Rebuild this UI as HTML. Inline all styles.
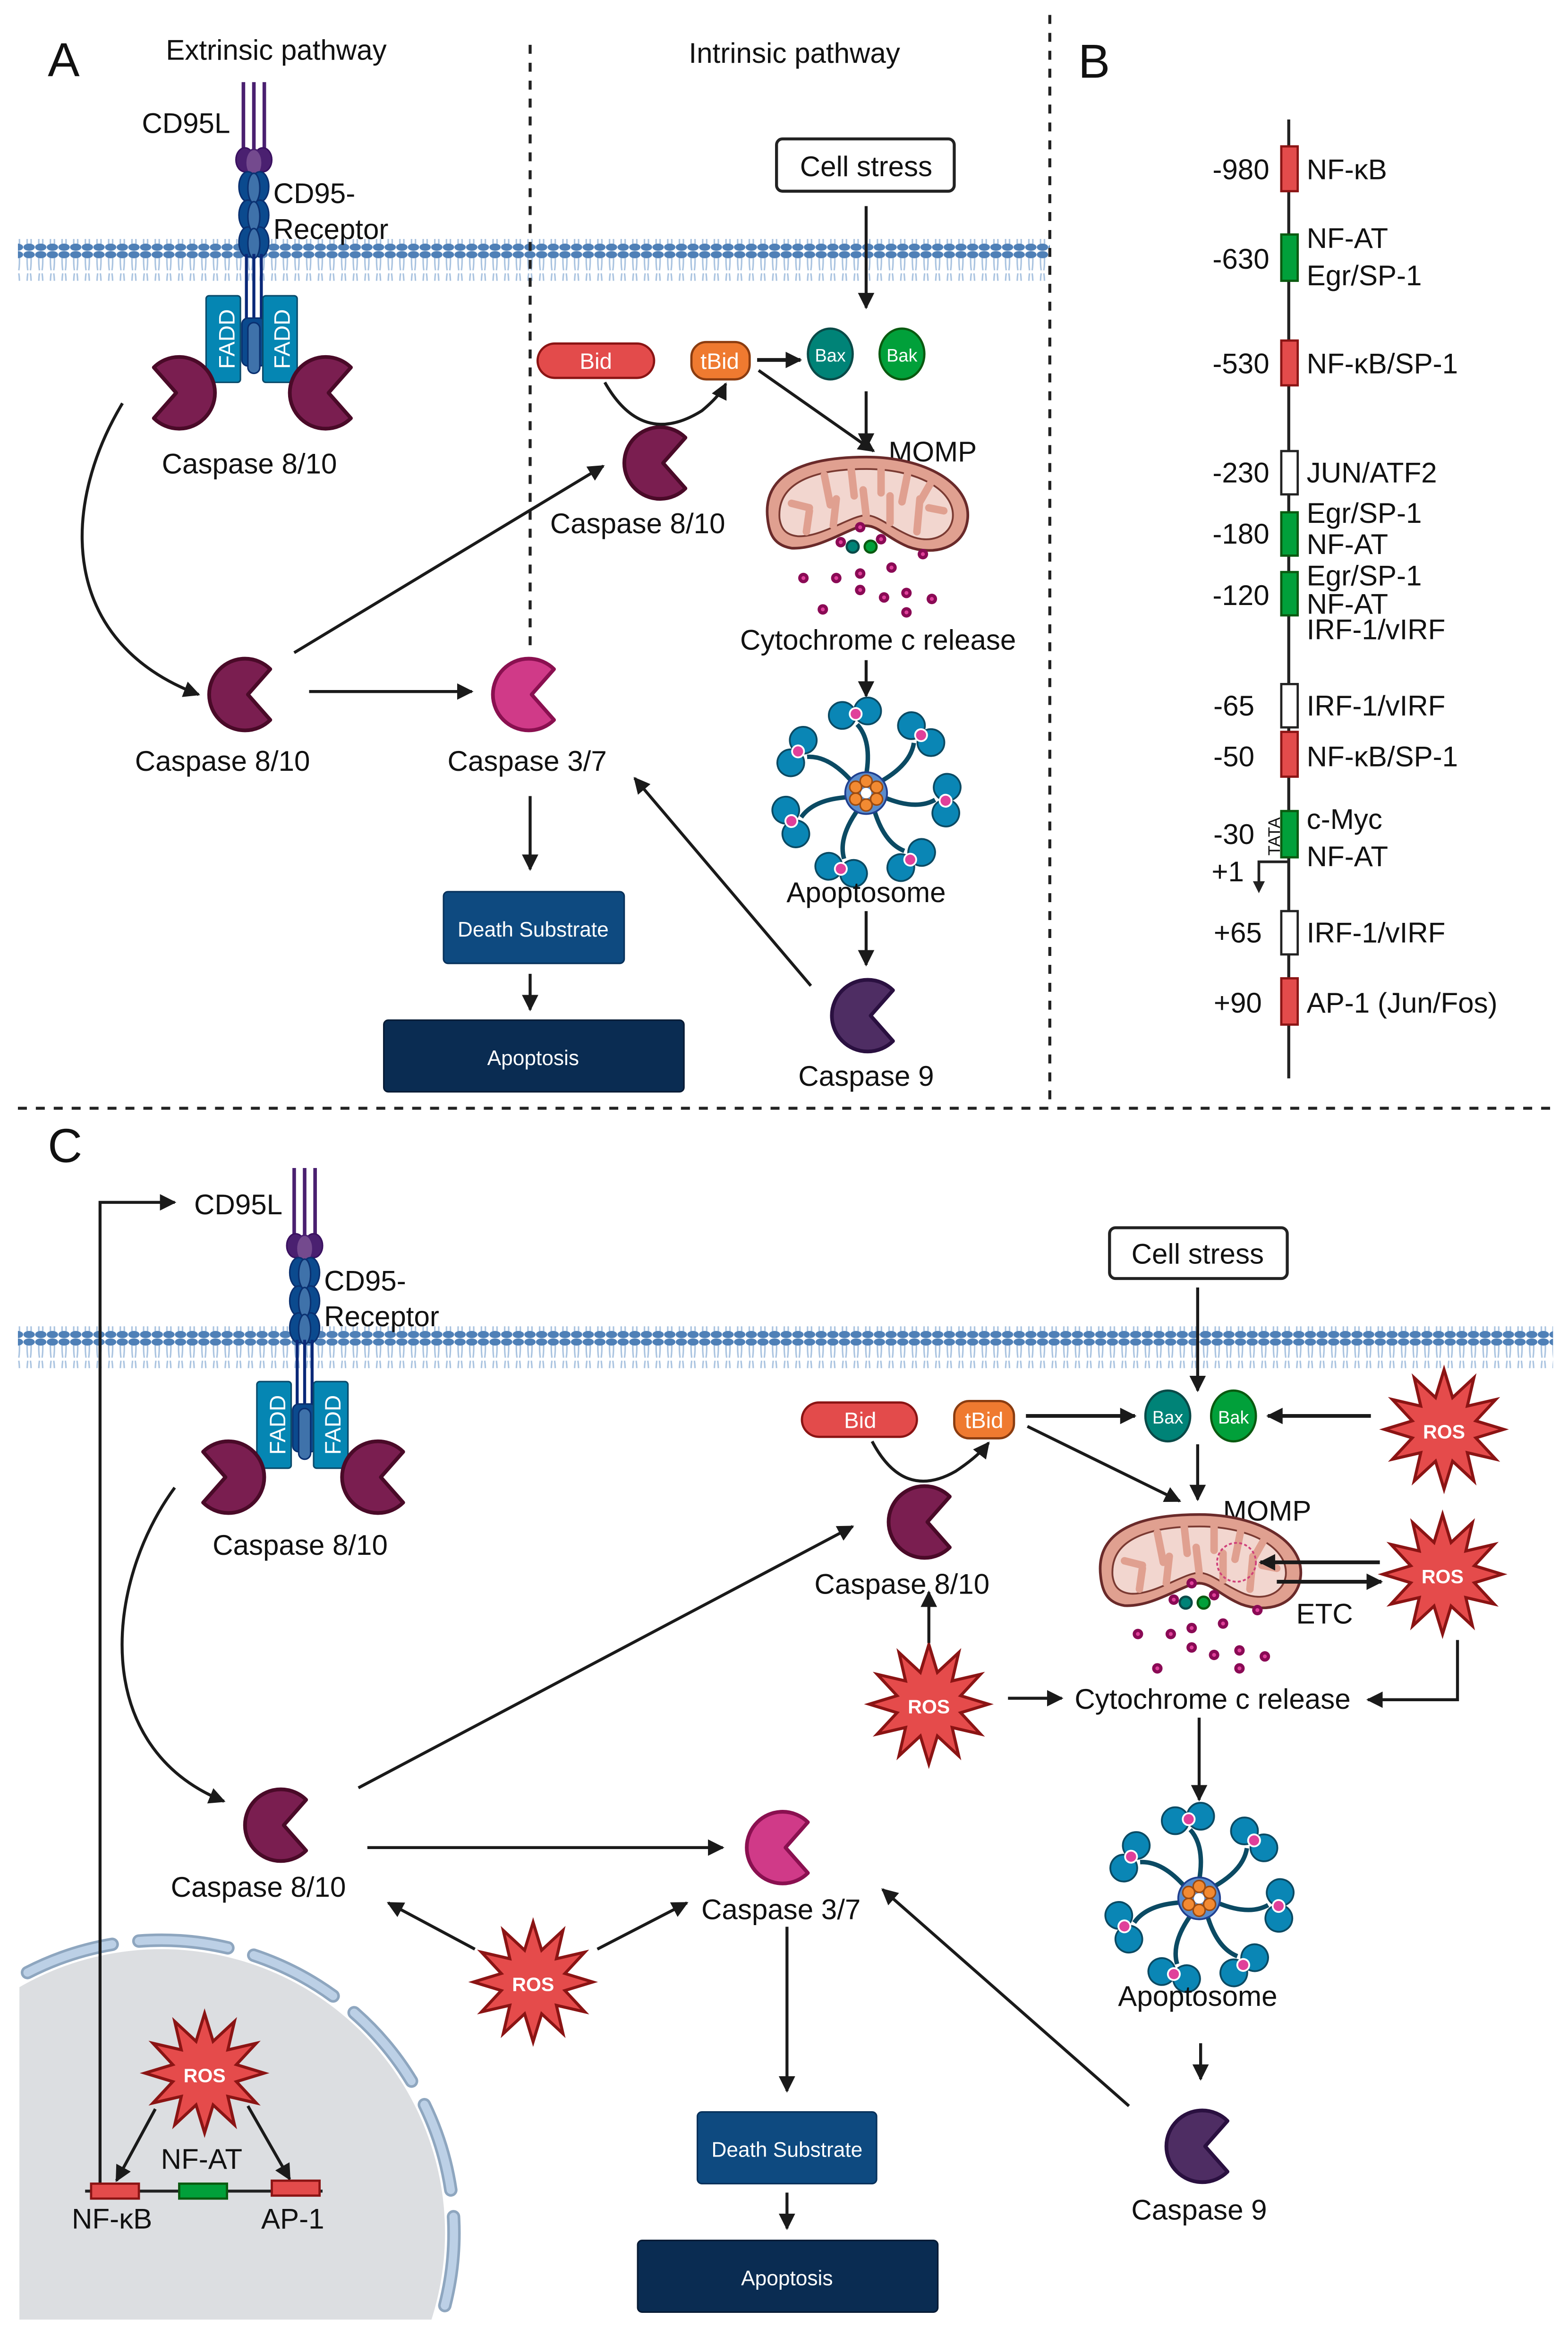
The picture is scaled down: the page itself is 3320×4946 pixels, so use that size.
<!DOCTYPE html>
<html><head><meta charset="utf-8"><style>
html,body{margin:0;padding:0;background:#fff;width:3320px;height:4946px;overflow:hidden}
svg{display:block}
text{font-family:"Liberation Sans",sans-serif;fill:#111}
</style></head><body>
<svg width="3320" height="4946" viewBox="0 0 1050 1564" preserveAspectRatio="none" xmlns="http://www.w3.org/2000/svg">
<defs>
<marker id="ah" viewBox="0 0 10 10" refX="9" refY="5" markerWidth="11" markerHeight="11" markerUnits="userSpaceOnUse" orient="auto"><path d="M0,0 L10,5 L0,10 Z" fill="#1a1a1a"/></marker>
<pattern id="lip" width="7.8" height="28" patternUnits="userSpaceOnUse">
<path d="M2.6,3 Q2.4,9 3,13 M5.2,3 Q5.4,9 4.8,13 M2.6,25 Q2.4,19 3,15 M5.2,25 Q5.4,19 4.8,15" stroke="#a9c3e0" stroke-width="1" fill="none"/>
<ellipse cx="3.9" cy="2.5" rx="3.8" ry="2.4" fill="#4f80b7"/>
<ellipse cx="3.9" cy="25.5" rx="3.8" ry="2.4" fill="#4f80b7"/>
</pattern>
<path id="casp" d="M17,-17 A24,24 0 1 0 17,17 L2,0 Z" stroke-width="2.5" stroke-linejoin="round"/>
<polygon id="ros" points="0,-40 5.7,-21.3 20,-34.6 15.6,-15.6 34.6,-20 21.3,-5.7 40,0 21.3,5.7 34.6,20 15.6,15.6 20,34.6 5.7,21.3 0,40 -5.7,21.3 -20,34.6 -15.6,15.6 -34.6,20 -21.3,5.7 -40,0 -21.3,-5.7 -34.6,-20 -15.6,-15.6 -20,-34.6 -5.7,-21.3" fill="#e54b4b" stroke="#8b1414" stroke-width="2" stroke-linejoin="miter"/>
<g id="arm">
<path d="M0,-12 Q4,-35 -6,-46" stroke="#0b4a63" stroke-width="3" fill="none"/>
<circle cx="-16" cy="-52" r="9" fill="#0a86b5" stroke="#0b4a63" stroke-width="1.2"/>
<circle cx="1" cy="-55" r="9" fill="#0a86b5" stroke="#0b4a63" stroke-width="1.2"/>
<circle cx="-7" cy="-53" r="4" fill="#e0409a" stroke="#fff" stroke-width="1.2"/>
</g>
<g id="apop">
<use href="#arm" transform="rotate(0)"/><use href="#arm" transform="rotate(51)"/><use href="#arm" transform="rotate(103)"/><use href="#arm" transform="rotate(154)"/><use href="#arm" transform="rotate(206)"/><use href="#arm" transform="rotate(257)"/><use href="#arm" transform="rotate(309)"/>
<circle r="14" fill="#5a8ccc" stroke="#1f3f8f" stroke-width="1.2"/>
<g fill="#f28a32" stroke="#9a4a10" stroke-width="1">
<circle cx="0" cy="-8" r="4"/><circle cx="7" cy="-4" r="4"/><circle cx="7" cy="4" r="4"/><circle cx="0" cy="8" r="4"/><circle cx="-7" cy="4" r="4"/><circle cx="-7" cy="-4" r="4"/></g>
<circle r="3.5" fill="#fff"/>
</g>
<g id="mito">
<path d="M-66,5 C-70,-30 -30,-36 0,-36 C40,-36 70,-18 68,5 C66,26 44,30 28,24 C14,18 8,10 0,10 C-10,10 -30,26 -50,25 C-62,23 -65,15 -66,5 Z" fill="#e0a090" stroke="#6a2a2a" stroke-width="1.8"/>
<path d="M-58,5 C-60,-22 -28,-28 0,-28 C34,-28 60,-14 58,5 C56,18 42,22 30,17 C16,11 8,3 0,3 C-10,3 -30,18 -46,17 C-54,16 -57,12 -58,5 Z" fill="#f2d6cf" stroke="#7a3a32" stroke-width="1.2"/>
<g stroke="#e0a090" stroke-width="5" stroke-linecap="round">
<path d="M-50,-5 L-38,-2 M-40,14 L-38,0 M-28,-24 L-24,-4 M-22,10 L-20,-8 M-10,-28 L-8,-10 M0,3 L-2,-14 M10,-28 L10,-12 M16,8 L16,-10 M28,-26 L24,-6 M34,14 L36,-8 M44,-20 L36,-6 M52,0 L42,-2"/>
</g>
</g>
<g id="cyt"><circle r="3.5" fill="#8a0a55"/><circle r="1.3" fill="#e0409a"/></g>
<g id="receptor">
<line x1="-7" y1="-50" x2="-7" y2="0" stroke="#4a2070" stroke-width="2.4"/>
<line x1="0" y1="-50" x2="0" y2="0" stroke="#4a2070" stroke-width="2.4"/>
<line x1="7" y1="-50" x2="7" y2="0" stroke="#4a2070" stroke-width="2.4"/>
<ellipse cx="-6" cy="2" rx="6" ry="8" fill="#4a2070" stroke="#3a1060"/>
<ellipse cx="6" cy="2" rx="6" ry="8" fill="#4a2070" stroke="#3a1060"/>
<ellipse cx="0" cy="4" rx="5.5" ry="9" fill="#744a8e" stroke="#4a2070"/>
<g fill="#0b4a8e" stroke="#0a3070">
<ellipse cx="-4" cy="20" rx="6" ry="10"/><ellipse cx="4" cy="20" rx="6" ry="10"/>
<ellipse cx="-4" cy="39" rx="6" ry="10"/><ellipse cx="4" cy="39" rx="6" ry="10"/>
<ellipse cx="-4" cy="57" rx="6" ry="10"/><ellipse cx="4" cy="57" rx="6" ry="10"/></g>
<g fill="#3f72aa" stroke="#0a3070"><ellipse cx="0" cy="21" rx="4" ry="10"/><ellipse cx="0" cy="40" rx="4" ry="10"/><ellipse cx="0" cy="58" rx="4" ry="10"/></g>
<g stroke="#0a2878" stroke-width="2"><line x1="-5" y1="65" x2="-5" y2="112"/><line x1="0" y1="65" x2="0" y2="112"/><line x1="5" y1="65" x2="5" y2="112"/></g>
<rect x="-8" y="108" width="16" height="32" rx="4" fill="#0b4a8e" stroke="#0a3070"/>
<rect x="-4" y="111" width="8" height="34" rx="4" fill="#3f72aa" stroke="#0a3070"/>
</g>
</defs>

<!-- ================= PANEL A ================= -->
<rect x="12" y="160" width="691" height="28" fill="url(#lip)"/>
<text x="32" y="51" font-size="32">A</text>
<text x="185" y="40" font-size="19" text-anchor="middle">Extrinsic pathway</text>
<text x="532" y="42" font-size="19" text-anchor="middle">Intrinsic pathway</text>
<text x="722" y="52" font-size="32">B</text>
<line x1="355" y1="30" x2="355" y2="436" stroke="#222" stroke-width="2" stroke-dasharray="6,6"/>
<line x1="703" y1="10" x2="703" y2="740" stroke="#222" stroke-width="2" stroke-dasharray="6,6"/>
<line x1="12" y1="742" x2="1040" y2="742" stroke="#222" stroke-width="2" stroke-dasharray="6,6"/>

<use href="#receptor" transform="translate(170,105)"/>
<text x="95" y="89" font-size="19">CD95L</text>
<text x="183" y="136" font-size="19">CD95-</text>
<text x="183" y="160" font-size="19">Receptor</text>
<rect x="138" y="198" width="23" height="58" rx="2" fill="#0586b3" stroke="#0a4a6a"/>
<rect x="176" y="198" width="23" height="58" rx="2" fill="#0586b3" stroke="#0a4a6a"/>
<text transform="translate(157,227) rotate(-90)" font-size="15" text-anchor="middle" style="fill:#fff">FADD</text>
<text transform="translate(194,227) rotate(-90)" font-size="15" text-anchor="middle" style="fill:#fff">FADD</text>
<use href="#casp" transform="translate(120,263) scale(-1,1)" fill="#7a1e50" stroke="#4a0a28"/>
<use href="#casp" transform="translate(218,263)" fill="#7a1e50" stroke="#4a0a28"/>
<text x="167" y="317" font-size="19" text-anchor="middle">Caspase 8/10</text>

<path d="M82,270 C40,340 40,430 133,465" stroke="#1a1a1a" stroke-width="2" fill="none" marker-end="url(#ah)"/>
<use href="#casp" transform="translate(164,465)" fill="#7a1e50" stroke="#4a0a28"/>
<text x="149" y="516" font-size="19" text-anchor="middle">Caspase 8/10</text>
<line x1="207" y1="463" x2="316" y2="463" stroke="#1a1a1a" stroke-width="2" marker-end="url(#ah)"/>
<use href="#casp" transform="translate(354,465)" fill="#d03a88" stroke="#8a1050"/>
<text x="353" y="516" font-size="19" text-anchor="middle">Caspase 3/7</text>
<line x1="355" y1="533" x2="355" y2="582" stroke="#1a1a1a" stroke-width="2" marker-end="url(#ah)"/>
<rect x="297" y="597" width="121" height="48" rx="3" fill="#0e4a80" stroke="#06305a"/>
<text x="357" y="627" font-size="14" text-anchor="middle" style="fill:#fff">Death Substrate</text>
<line x1="355" y1="652" x2="355" y2="676" stroke="#1a1a1a" stroke-width="2" marker-end="url(#ah)"/>
<rect x="257" y="683" width="201" height="48" rx="3" fill="#0a2c52" stroke="#061a34"/>
<text x="357" y="713" font-size="14" text-anchor="middle" style="fill:#fff">Apoptosis</text>

<line x1="197" y1="437" x2="404" y2="312" stroke="#1a1a1a" stroke-width="2" marker-end="url(#ah)"/>
<use href="#casp" transform="translate(442,310)" fill="#7a1e50" stroke="#4a0a28"/>
<text x="427" y="357" font-size="19" text-anchor="middle">Caspase 8/10</text>

<rect x="360" y="230" width="78" height="23" rx="11.5" fill="#e34b4b" stroke="#8b1414" stroke-width="1.5"/>
<text x="399" y="247" font-size="15" text-anchor="middle" style="fill:#fff">Bid</text>
<rect x="463" y="229" width="39" height="25" rx="10" fill="#ef7a30" stroke="#8a3c10" stroke-width="1.5"/>
<text x="482" y="247" font-size="15" text-anchor="middle" style="fill:#fff">tBid</text>
<path d="M405,256 Q430,300 470,275 Q482,265 486,257" stroke="#1a1a1a" stroke-width="2" fill="none" marker-end="url(#ah)"/>
<line x1="507" y1="241" x2="536" y2="241" stroke="#1a1a1a" stroke-width="2.5" marker-end="url(#ah)"/>
<line x1="508" y1="248" x2="585" y2="302" stroke="#1a1a1a" stroke-width="2" marker-end="url(#ah)"/>
<ellipse cx="556" cy="237" rx="15" ry="17" fill="#008377" stroke="#0a4a48" stroke-width="1.5"/>
<text x="556" y="242" font-size="12" text-anchor="middle" style="fill:#fff">Bax</text>
<ellipse cx="604" cy="237" rx="15" ry="17" fill="#01a03a" stroke="#0a5a10" stroke-width="1.5"/>
<text x="604" y="242" font-size="12" text-anchor="middle" style="fill:#fff">Bak</text>
<rect x="520" y="93" width="119" height="35" rx="4" fill="#fff" stroke="#222" stroke-width="2"/>
<text x="580" y="118" font-size="19" text-anchor="middle">Cell stress</text>
<line x1="580" y1="138" x2="580" y2="206" stroke="#1a1a1a" stroke-width="2" marker-end="url(#ah)"/>
<line x1="580" y1="262" x2="580" y2="300" stroke="#1a1a1a" stroke-width="2" marker-end="url(#ah)"/>
<text x="595" y="309" font-size="19">MOMP</text>
<use href="#mito" transform="translate(580,342)"/>
<circle cx="571" cy="366" r="4" fill="#008377" stroke="#0a4a48" stroke-width="1.5"/>
<circle cx="583" cy="366" r="4" fill="#01a03a" stroke="#0a5a10" stroke-width="1.5"/>
<use href="#cyt" x="563" y="363"/><use href="#cyt" x="576" y="353"/><use href="#cyt" x="590" y="361"/><use href="#cyt" x="618" y="371"/>
<use href="#cyt" x="576" y="384"/><use href="#cyt" x="597" y="380"/><use href="#cyt" x="538" y="387"/><use href="#cyt" x="560" y="387"/>
<use href="#cyt" x="576" y="395"/><use href="#cyt" x="592" y="400"/><use href="#cyt" x="607" y="397"/><use href="#cyt" x="624" y="401"/><use href="#cyt" x="551" y="408"/><use href="#cyt" x="607" y="410"/>
<text x="588" y="435" font-size="19" text-anchor="middle">Cytochrome c release</text>
<line x1="580" y1="442" x2="580" y2="466" stroke="#1a1a1a" stroke-width="2" marker-end="url(#ah)"/>
<use href="#apop" transform="translate(580,531)"/>
<text x="580" y="604" font-size="19" text-anchor="middle">Apoptosome</text>
<line x1="580" y1="610" x2="580" y2="646" stroke="#1a1a1a" stroke-width="2" marker-end="url(#ah)"/>
<use href="#casp" transform="translate(581,680)" fill="#4e2d63" stroke="#2a1040"/>
<text x="580" y="727" font-size="19" text-anchor="middle">Caspase 9</text>
<line x1="543" y1="660" x2="425" y2="521" stroke="#1a1a1a" stroke-width="2" marker-end="url(#ah)"/>

<!-- ================= PANEL B ================= -->
<line x1="863" y1="80" x2="863" y2="722" stroke="#222" stroke-width="2"/>
<g font-size="19">
<rect x="858" y="98" width="11" height="30" fill="#e34b4b" stroke="#8b1414" stroke-width="1.5"/>
<text x="850" y="120" text-anchor="end">-980</text><text x="875" y="120">NF-κB</text>
<rect x="858" y="157" width="11" height="31" fill="#01a03a" stroke="#0a5a10" stroke-width="1.5"/>
<text x="850" y="180" text-anchor="end">-630</text><text x="875" y="166">NF-AT</text><text x="875" y="191">Egr/SP-1</text>
<rect x="858" y="228" width="11" height="30" fill="#e34b4b" stroke="#8b1414" stroke-width="1.5"/>
<text x="850" y="250" text-anchor="end">-530</text><text x="875" y="250">NF-κB/SP-1</text>
<rect x="858" y="302" width="11" height="29" fill="#fff" stroke="#222" stroke-width="1.5"/>
<text x="850" y="323" text-anchor="end">-230</text><text x="875" y="323">JUN/ATF2</text>
<rect x="858" y="343" width="11" height="29" fill="#01a03a" stroke="#0a5a10" stroke-width="1.5"/>
<text x="850" y="364" text-anchor="end">-180</text><text x="875" y="350">Egr/SP-1</text><text x="875" y="371">NF-AT</text>
<rect x="858" y="383" width="11" height="29" fill="#01a03a" stroke="#0a5a10" stroke-width="1.5"/>
<text x="850" y="405" text-anchor="end">-120</text><text x="875" y="392">Egr/SP-1</text><text x="875" y="411">NF-AT</text><text x="875" y="428">IRF-1/vIRF</text>
<rect x="858" y="458" width="11" height="29" fill="#fff" stroke="#222" stroke-width="1.5"/>
<text x="840" y="479" text-anchor="end">-65</text><text x="875" y="479">IRF-1/vIRF</text>
<rect x="858" y="490" width="11" height="30" fill="#e34b4b" stroke="#8b1414" stroke-width="1.5"/>
<text x="840" y="513" text-anchor="end">-50</text><text x="875" y="513">NF-κB/SP-1</text>
<rect x="858" y="543" width="11" height="31" fill="#01a03a" stroke="#0a5a10" stroke-width="1.5"/>
<text x="840" y="565" text-anchor="end">-30</text><text x="875" y="555">c-Myc</text><text x="875" y="580">NF-AT</text>
<text transform="translate(857,560) rotate(-90)" font-size="11" text-anchor="middle">TATA</text>
<text x="833" y="590" text-anchor="end">+1</text>
<polyline points="863,577 843,577 843,592" fill="none" stroke="#222" stroke-width="1.8"/>
<path d="M839,590 L847,590 L843,598 Z" fill="#222"/>
<rect x="858" y="610" width="11" height="29" fill="#fff" stroke="#222" stroke-width="1.5"/>
<text x="845" y="631" text-anchor="end">+65</text><text x="875" y="631">IRF-1/vIRF</text>
<rect x="858" y="655" width="11" height="31" fill="#e34b4b" stroke="#8b1414" stroke-width="1.5"/>
<text x="845" y="678" text-anchor="end">+90</text><text x="875" y="678">AP-1 (Jun/Fos)</text>
</g>

<!-- ================= PANEL C ================= -->
<text x="32" y="778" font-size="32">C</text>
<clipPath id="nclip"><rect x="13" y="1200" width="400" height="353"/></clipPath>
<g clip-path="url(#nclip)">
<circle cx="108" cy="1495" r="190" fill="#dcdee1"/>
<circle cx="108" cy="1495" r="196" fill="none" stroke="#8ea6bf" stroke-width="9" stroke-dasharray="60,18" stroke-linecap="round" transform="rotate(-140 108 1495)"/>
<circle cx="108" cy="1495" r="196" fill="none" stroke="#bcd0e6" stroke-width="5.5" stroke-dasharray="60,18" stroke-linecap="round" transform="rotate(-140 108 1495)"/>
</g>
<rect x="12" y="888" width="1028" height="28" fill="url(#lip)"/>
<polyline points="67,1465 67,805 117,805" fill="none" stroke="#1a1a1a" stroke-width="2" marker-end="url(#ah)"/>
<text x="130" y="813" font-size="19">CD95L</text>
<use href="#receptor" transform="translate(204,832)"/>
<text x="217" y="864" font-size="19">CD95-</text>
<text x="217" y="888" font-size="19">Receptor</text>
<rect x="172" y="925" width="23" height="58" rx="2" fill="#0586b3" stroke="#0a4a6a"/>
<rect x="210" y="925" width="23" height="58" rx="2" fill="#0586b3" stroke="#0a4a6a"/>
<text transform="translate(191,954) rotate(-90)" font-size="15" text-anchor="middle" style="fill:#fff">FADD</text>
<text transform="translate(228,954) rotate(-90)" font-size="15" text-anchor="middle" style="fill:#fff">FADD</text>
<use href="#casp" transform="translate(153,989) scale(-1,1)" fill="#7a1e50" stroke="#4a0a28"/>
<use href="#casp" transform="translate(253,989)" fill="#7a1e50" stroke="#4a0a28"/>
<text x="201" y="1041" font-size="19" text-anchor="middle">Caspase 8/10</text>
<path d="M117,996 C70,1060 60,1170 150,1206" stroke="#1a1a1a" stroke-width="2" fill="none" marker-end="url(#ah)"/>
<use href="#casp" transform="translate(188,1222)" fill="#7a1e50" stroke="#4a0a28"/>
<text x="173" y="1270" font-size="19" text-anchor="middle">Caspase 8/10</text>
<line x1="240" y1="1197" x2="571" y2="1022" stroke="#1a1a1a" stroke-width="2" marker-end="url(#ah)"/>
<use href="#casp" transform="translate(619,1019)" fill="#7a1e50" stroke="#4a0a28"/>
<text x="604" y="1067" font-size="19" text-anchor="middle">Caspase 8/10</text>
<line x1="246" y1="1237" x2="484" y2="1237" stroke="#1a1a1a" stroke-width="2" marker-end="url(#ah)"/>
<use href="#casp" transform="translate(524,1237)" fill="#d03a88" stroke="#8a1050"/>
<text x="523" y="1285" font-size="19" text-anchor="middle">Caspase 3/7</text>
<use href="#ros" transform="translate(357,1327)"/>
<text x="357" y="1333" font-size="13" font-weight="bold" text-anchor="middle" style="fill:#fff">ROS</text>
<line x1="318" y1="1305" x2="260" y2="1274" stroke="#1a1a1a" stroke-width="2" marker-end="url(#ah)"/>
<line x1="400" y1="1305" x2="460" y2="1274" stroke="#1a1a1a" stroke-width="2" marker-end="url(#ah)"/>
<line x1="527" y1="1290" x2="527" y2="1400" stroke="#1a1a1a" stroke-width="2" marker-end="url(#ah)"/>
<rect x="467" y="1414" width="120" height="48" rx="3" fill="#0e4a80" stroke="#06305a"/>
<text x="527" y="1444" font-size="14" text-anchor="middle" style="fill:#fff">Death Substrate</text>
<line x1="527" y1="1468" x2="527" y2="1492" stroke="#1a1a1a" stroke-width="2" marker-end="url(#ah)"/>
<rect x="427" y="1500" width="201" height="48" rx="3" fill="#0a2c52" stroke="#061a34"/>
<text x="527" y="1530" font-size="14" text-anchor="middle" style="fill:#fff">Apoptosis</text>

<use href="#ros" transform="translate(137,1388)"/>
<text x="137" y="1394" font-size="13" font-weight="bold" text-anchor="middle" style="fill:#fff">ROS</text>
<line x1="104" y1="1412" x2="78" y2="1460" stroke="#1a1a1a" stroke-width="2" marker-end="url(#ah)"/>
<line x1="166" y1="1410" x2="194" y2="1459" stroke="#1a1a1a" stroke-width="2" marker-end="url(#ah)"/>
<line x1="57" y1="1467" x2="216" y2="1467" stroke="#222" stroke-width="2"/>
<rect x="61" y="1462" width="32" height="10" fill="#e34b4b" stroke="#8b1414" stroke-width="1.5"/>
<rect x="120" y="1462" width="32" height="10" fill="#01a03a" stroke="#0a5a10" stroke-width="1.5"/>
<rect x="182" y="1460" width="32" height="10" fill="#e34b4b" stroke="#8b1414" stroke-width="1.5"/>
<text x="75" y="1492" font-size="19" text-anchor="middle">NF-κB</text>
<text x="135" y="1452" font-size="19" text-anchor="middle">NF-AT</text>
<text x="196" y="1492" font-size="19" text-anchor="middle">AP-1</text>

<rect x="537" y="939" width="77" height="23" rx="11.5" fill="#e34b4b" stroke="#8b1414" stroke-width="1.5"/>
<text x="576" y="956" font-size="15" text-anchor="middle" style="fill:#fff">Bid</text>
<rect x="639" y="938" width="40" height="25" rx="10" fill="#ef7a30" stroke="#8a3c10" stroke-width="1.5"/>
<text x="659" y="956" font-size="15" text-anchor="middle" style="fill:#fff">tBid</text>
<path d="M584,965 Q605,1005 640,985 Q655,975 662,966" stroke="#1a1a1a" stroke-width="2" fill="none" marker-end="url(#ah)"/>
<line x1="687" y1="948" x2="760" y2="948" stroke="#1a1a1a" stroke-width="2.5" marker-end="url(#ah)"/>
<line x1="688" y1="955" x2="790" y2="1005" stroke="#1a1a1a" stroke-width="2" marker-end="url(#ah)"/>
<ellipse cx="782" cy="948" rx="15" ry="17" fill="#008377" stroke="#0a4a48" stroke-width="1.5"/>
<text x="782" y="953" font-size="12" text-anchor="middle" style="fill:#fff">Bax</text>
<ellipse cx="826" cy="948" rx="15" ry="17" fill="#01a03a" stroke="#0a5a10" stroke-width="1.5"/>
<text x="826" y="953" font-size="12" text-anchor="middle" style="fill:#fff">Bak</text>
<use href="#ros" transform="translate(967,957)"/>
<text x="967" y="963" font-size="13" font-weight="bold" text-anchor="middle" style="fill:#fff">ROS</text>
<line x1="918" y1="948" x2="849" y2="948" stroke="#1a1a1a" stroke-width="2.5" marker-end="url(#ah)"/>
<rect x="743" y="822" width="119" height="34" rx="4" fill="#fff" stroke="#222" stroke-width="2"/>
<text x="802" y="846" font-size="19" text-anchor="middle">Cell stress</text>
<line x1="802" y1="862" x2="802" y2="931" stroke="#1a1a1a" stroke-width="2" marker-end="url(#ah)"/>
<line x1="802" y1="967" x2="802" y2="1004" stroke="#1a1a1a" stroke-width="2" marker-end="url(#ah)"/>
<text x="819" y="1018" font-size="19">MOMP</text>
<use href="#mito" transform="translate(803,1050)"/>
<circle cx="828" cy="1046" r="13" fill="none" stroke="#d0407a" stroke-width="1.2" stroke-dasharray="2,1.5"/>
<circle cx="794" cy="1073" r="4" fill="#008377" stroke="#0a4a48" stroke-width="1.5"/>
<circle cx="806" cy="1073" r="4" fill="#01a03a" stroke="#0a5a10" stroke-width="1.5"/>
<use href="#cyt" x="786" y="1071"/><use href="#cyt" x="798" y="1060"/><use href="#cyt" x="813" y="1068"/><use href="#cyt" x="842" y="1078"/>
<use href="#cyt" x="798" y="1090"/><use href="#cyt" x="819" y="1087"/><use href="#cyt" x="762" y="1094"/><use href="#cyt" x="784" y="1094"/>
<use href="#cyt" x="798" y="1103"/><use href="#cyt" x="813" y="1108"/><use href="#cyt" x="830" y="1105"/><use href="#cyt" x="847" y="1109"/><use href="#cyt" x="775" y="1117"/><use href="#cyt" x="830" y="1117"/>
<use href="#ros" transform="translate(966,1054)"/>
<text x="966" y="1060" font-size="13" font-weight="bold" text-anchor="middle" style="fill:#fff">ROS</text>
<line x1="924" y1="1046" x2="844" y2="1046" stroke="#1a1a1a" stroke-width="2.5" marker-end="url(#ah)"/>
<line x1="855" y1="1059" x2="925" y2="1059" stroke="#1a1a1a" stroke-width="2.5" marker-end="url(#ah)"/>
<text x="868" y="1087" font-size="19">ETC</text>
<polyline points="976,1098 976,1138 916,1138" fill="none" stroke="#1a1a1a" stroke-width="2" marker-end="url(#ah)"/>
<text x="812" y="1144" font-size="19" text-anchor="middle">Cytochrome c release</text>
<use href="#ros" transform="translate(622,1141)"/>
<text x="622" y="1147" font-size="13" font-weight="bold" text-anchor="middle" style="fill:#fff">ROS</text>
<line x1="622" y1="1100" x2="622" y2="1066" stroke="#1a1a1a" stroke-width="2" marker-end="url(#ah)"/>
<line x1="675" y1="1137" x2="711" y2="1137" stroke="#1a1a1a" stroke-width="2" marker-end="url(#ah)"/>
<line x1="803" y1="1150" x2="803" y2="1205" stroke="#1a1a1a" stroke-width="2" marker-end="url(#ah)"/>
<use href="#apop" transform="translate(803,1271)"/>
<text x="802" y="1343" font-size="19" text-anchor="middle">Apoptosome</text>
<line x1="804" y1="1368" x2="804" y2="1392" stroke="#1a1a1a" stroke-width="2" marker-end="url(#ah)"/>
<use href="#casp" transform="translate(805,1437)" fill="#4e2d63" stroke="#2a1040"/>
<text x="803" y="1486" font-size="19" text-anchor="middle">Caspase 9</text>
<line x1="756" y1="1410" x2="591" y2="1265" stroke="#1a1a1a" stroke-width="2" marker-end="url(#ah)"/>
</svg>
</body></html>
